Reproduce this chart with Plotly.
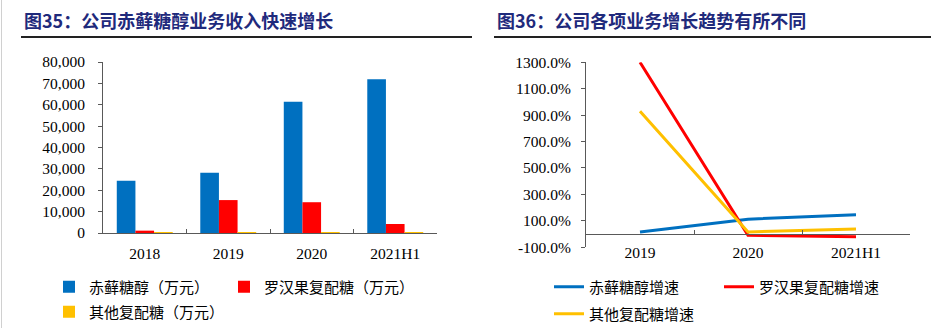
import plotly.graph_objects as go

W, H = 931, 328

# ---------------- data ----------------
years_rev = ["2018", "2019", "2020", "2021H1"]
erythritol_rev = [24500, 28200, 61400, 71900]
luohanguo_rev = [1100, 15400, 14400, 4200]
other_rev = [60, 450, 420, 300]

years_g = ["2019", "2020", "2021H1"]
erythritol_g = [15.0, 112.0, 146.0]
luohanguo_g = [1300.0, -10.0, -20.0]
other_g = [930.0, 15.0, 38.0]

rev_names = ["赤藓糖醇（万元）", "罗汉果复配糖（万元）", "其他复配糖（万元）"]
g_names = ["赤藓糖醇增速", "罗汉果复配糖增速", "其他复配糖增速"]
colors = ["#0070C0", "#FF0000", "#FFC000"]

g_ticks = [-100, 100, 300, 500, 700, 900, 1100, 1300]
g_ticktext = [("-" if v < 0 else "") + f"{abs(v):.1f}%" for v in g_ticks]

title_left = "图35：公司赤藓糖醇业务收入快速增长"
title_right = "图36：公司各项业务增长趋势有所不同"

# ---------------- helpers ----------------
def px(x):
    return x / W

def py(y):
    return 1 - y / H

NUM_FONT = "Liberation Serif"
CJK_FONT = "Noto Sans CJK SC"
AXIS_COLOR = "#595959"

fig = go.Figure()

rev_series = [erythritol_rev, luohanguo_rev, other_rev]
for i, (name, vals) in enumerate(zip(rev_names, rev_series)):
    fig.add_trace(go.Bar(
        x=years_rev, y=vals, name=name, marker_color=colors[i],
        marker_line_width=0, xaxis="x", yaxis="y",
        legend=f"legend{i + 2}",
    ))

g_series = [erythritol_g, luohanguo_g, other_g]
for i, (name, vals) in enumerate(zip(g_names, g_series)):
    fig.add_trace(go.Scatter(
        x=years_g, y=vals, name=name, mode="lines",
        line=dict(color=colors[i], width=3), xaxis="x2", yaxis="y2",
        legend=f"legend{i + 5}",
    ))

# domains
ly_dom = [py(233), py(62)]
ry_dom = [py(247.2), py(62.3)]
ry_range = [-100, 1300]
zero_pos = ry_dom[0] + (ry_dom[1] - ry_dom[0]) * (0 - ry_range[0]) / (ry_range[1] - ry_range[0])

tickfont = dict(family=NUM_FONT, size=15.5, color="#000000")

layout = dict(
    template="none",
    width=W, height=H,
    margin=dict(l=0, r=0, t=0, b=0, pad=0, autoexpand=False),
    paper_bgcolor="white", plot_bgcolor="white",
    showlegend=True,
    barmode="group", bargap=0.33, bargroupgap=0,
    xaxis=dict(
        type="category", categoryorder="array", categoryarray=years_rev,
        domain=[px(103), px(437)], anchor="y", automargin=False,
        range=[-0.5, len(years_rev) - 0.5],
        showline=True, linecolor=AXIS_COLOR, linewidth=1,
        ticks="inside", ticklen=4, tickcolor=AXIS_COLOR, tickson="boundaries",
        tickfont=tickfont, ticklabelstandoff=6, showgrid=False,
    ),
    yaxis=dict(
        domain=ly_dom, anchor="x", range=[0, 80000], dtick=10000, automargin=False,
        tickformat=",", showline=True, linecolor=AXIS_COLOR, linewidth=1,
        ticks="outside", ticklen=4, tickcolor=AXIS_COLOR,
        tickfont=tickfont, ticklabelstandoff=10, showgrid=False, zeroline=False,
    ),
    xaxis2=dict(
        type="category", categoryorder="array", categoryarray=years_g,
        domain=[px(586), px(910)], anchor="free", position=zero_pos,
        range=[-0.5, len(years_g) - 0.5], automargin=False,
        showline=True, linecolor=AXIS_COLOR, linewidth=1,
        ticks="inside", ticklen=4, tickcolor=AXIS_COLOR, tickson="boundaries",
        tickfont=tickfont, ticklabelstandoff=4, showgrid=False, zeroline=False,
    ),
    yaxis2=dict(
        domain=ry_dom, anchor="x2", range=ry_range, automargin=False,
        tickvals=g_ticks, ticktext=g_ticktext,
        showline=True, linecolor=AXIS_COLOR, linewidth=1,
        ticks="outside", ticklen=4, tickcolor=AXIS_COLOR,
        tickfont=tickfont, ticklabelstandoff=7, showgrid=False, zeroline=False,
    ),
)

# one legend per series for exact placement
legend_pos = [(49, 287), (224, 287), (49, 312), (549, 287), (719, 287), (549, 314)]
for i, (lx, ly) in enumerate(legend_pos):
    layout[f"legend{i + 2}"] = dict(
        x=px(lx), y=py(ly), xanchor="left", yanchor="middle",
        orientation="h", bgcolor="rgba(0,0,0,0)", borderwidth=0,
        font=dict(family=CJK_FONT, size=15, color="#000000"),
        itemwidth=30,
    )

fig.update_layout(**layout)

# titles
for tx, text in [(22, title_left), (495, title_right)]:
    fig.add_annotation(
        x=px(tx), y=py(20), xref="paper", yref="paper",
        xanchor="left", yanchor="middle", showarrow=False,
        text=f"<b>{text}</b>",
        font=dict(family=CJK_FONT, size=18, color="#1F2A7C"),
    )

# title underlines and left border
fig.add_shape(type="line", xref="paper", yref="paper",
              x0=px(21), x1=px(472), y0=py(37), y1=py(37),
              line=dict(color="#222222", width=2))
fig.add_shape(type="line", xref="paper", yref="paper",
              x0=px(494), x1=px(931), y0=py(37), y1=py(37),
              line=dict(color="#222222", width=2))
fig.add_shape(type="line", xref="paper", yref="paper",
              x0=px(1.5), x1=px(1.5), y0=0, y1=1,
              line=dict(color="#D0D0D0", width=1))

fig.write_html("out.html")
